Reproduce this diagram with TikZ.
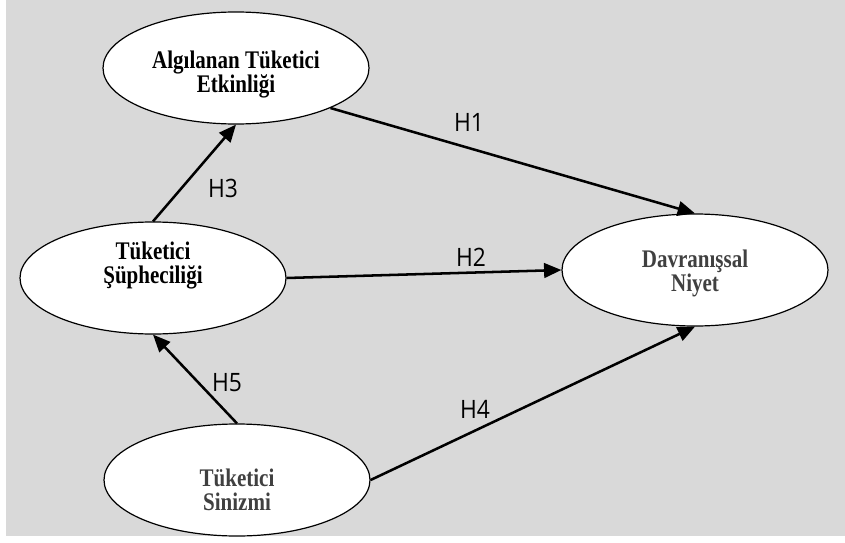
\documentclass[tikz,border=0pt]{standalone}
\usepackage{fontspec}
\setmainfont[FakeStretch=0.83]{Liberation Serif}
\newfontfamily\hypfont[FakeStretch=0.9]{Open Sans}
\usetikzlibrary{arrows.meta,shapes.geometric}
\definecolor{panelgray}{HTML}{D9D9D9}
\definecolor{darktext}{HTML}{404040}
\tikzset{
  construct/.style={ellipse, draw, fill=white, line width=0.9pt, minimum width=199.5pt, minimum height=84pt, inner sep=0pt, font=\fontsize{19}{16}\selectfont\bfseries},
  hypedge/.style={line width=1.9pt, -{Triangle[length=13pt,width=11pt]}},
  hyplabel/.style={font=\hypfont\fontsize{19}{20}\selectfont, inner sep=0pt}
}

\begin{document}
\begin{tikzpicture}[x=0.75pt, y=-0.75pt]
  \useasboundingbox (0,0) rectangle (845,542);
  \fill[panelgray] (6,0) rectangle (845,536);

  \node[construct] (ATE) at (236,68) {\begin{tabular}{c}\rule{0pt}{23pt}Algılanan Tüketici\\Etkinliği\end{tabular}};
  \node[construct] (TS) at (153,278) {\begin{tabular}{c}Tüketici\\Şüpheciliği\\[18pt]\end{tabular}};
  \node[construct, text=darktext] (DN) at (695,270) {\begin{tabular}{c}\rule{0pt}{19pt}Davranışsal\\Niyet\end{tabular}};
  \node[construct, text=darktext] (TSz) at (237,480) {\begin{tabular}{c}\rule{0pt}{33pt}Tüketici\\Sinizmi\end{tabular}};

  \draw[hypedge] (ATE.south east) -- (DN.north);
  \draw[hypedge] (TS.east) -- (DN.west);
  \draw[hypedge] (TS.north) -- (ATE.south);
  \draw[hypedge] (TSz.east) -- (DN.south);
  \draw[hypedge] (TSz.north) -- (TS.south);

  \node[hyplabel] (h1) at (469,122) {H1};
  \node[hyplabel] (h2) at (471,257) {H2};
  \node[hyplabel] (h3) at (223,188) {H3};
  \node[hyplabel] (h4) at (475,409) {H4};
  \node[hyplabel] (h5) at (227,383) {H5};
\end{tikzpicture}
\end{document}
